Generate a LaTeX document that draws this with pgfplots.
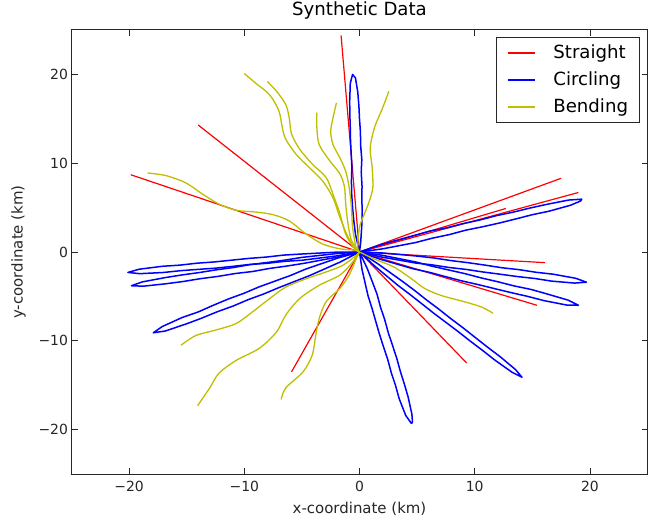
\documentclass[border=0pt]{standalone}
\usepackage{fontspec}
\setmainfont{DejaVu Sans}
\usepackage{pgfplots}
\pgfplotsset{compat=1.18}
\definecolor{mplred}{rgb}{1,0,0}
\definecolor{mplblue}{rgb}{0,0,1}
\definecolor{mplyellow}{rgb}{0.75,0.75,0}

\pgfplotsset{
  straight/.style={mplred, line width=1.2bp, no marks},
  circling/.style={mplblue, line width=1.5bp, no marks, line join=round},
  bending/.style={mplyellow, line width=1.3bp, no marks, smooth},
}

\begin{document}
\begin{tikzpicture}
\begin{axis}[
    width=576bp, height=444bp, scale only axis,
    xmin=-25, xmax=25, ymin=-25, ymax=25,
    xtick={-20,-10,0,10,20}, ytick={-20,-10,0,10,20},
    xticklabels={−20,−10,0,10,20}, yticklabels={−20,−10,0,10,20},
    tick align=inside, major tick length=6bp,
    tick style={black!85, line width=0.8bp},
    axis line style={black!85, line width=1bp},
    tick label style={font=\fontsize{14}{16}\selectfont, text=black!85},
    xticklabel style={yshift=-4bp},
    every axis x label/.style={at={(rel axis cs:0.5,0)}, yshift=-35bp, anchor=center,
        font=\fontsize{15}{17}\selectfont, text=black!85},
    every axis y label/.style={at={(rel axis cs:0,0.5)}, xshift=-53bp, rotate=90, anchor=center,
        font=\fontsize{15}{17}\selectfont, text=black!85},
    title style={font=\fontsize{18.2}{21}\selectfont, at={(0.5,1)}, anchor=base, yshift=8.3bp},
    title={Synthetic Data},
    xlabel={x-coordinate (km)}, ylabel={y-coordinate (km)},
    legend style={at={(0.986,0.984)}, anchor=north east, draw=black!85, line width=0.8bp,
        font=\fontsize{18.2}{21}\selectfont, cells={anchor=west},
        nodes={inner sep=0bp, text height=13.5bp, text depth=3.5bp},
        row sep=10bp, column sep=18bp, inner xsep=11bp, inner ysep=7bp},
    legend image code/.code={\draw[#1, line width=1.3bp] (0bp,0bp) -- (27bp,0bp);},
]
\coordinate (sw) at (rel axis cs:0,0);
\coordinate (ne) at (rel axis cs:1,1);
% straight tracks
\addplot[straight] coordinates {(0,0) (-1.6,24.4)};
\addlegendentry{Straight}
\addplot[straight, forget plot] coordinates {(0,0) (-14.0,14.3)};
\addplot[straight, forget plot] coordinates {(0,0) (-19.85,8.7)};
\addplot[straight, forget plot] coordinates {(0,0) (17.5,8.3)};
\addplot[straight, forget plot] coordinates {(0,0) (19.0,6.7)};
\addplot[straight, forget plot] coordinates {(0,0) (12.7,4.9)};
\addplot[straight, forget plot] coordinates {(0,0) (16.1,-1.2)};
\addplot[straight, forget plot] coordinates {(0,0) (15.4,-6.0)};
\addplot[straight, forget plot] coordinates {(0,0) (9.3,-12.5)};
\addplot[straight, forget plot] coordinates {(0,0) (-5.9,-13.5)};

% circling tracks: out and back
\addplot[circling] coordinates {(0,0) (-0.35,2) (-0.5,3.6) (-0.6,5) (-0.68,6.6) (-0.7,8) (-0.66,9.5) (-0.72,11) (-0.78,12.6) (-0.8,14) (-0.84,15.5) (-0.85,17) (-0.8,19) (-0.6,20.0) (-0.35,19.6) (-0.15,18) (-0.05,16.4) (0.0,15) (0.08,13.5) (0.1,12) (0.2,10.4) (0.15,9) (0.22,7.4) (0.2,6) (0.24,4.5) (0.2,3) (0.1,1) (0,0)};
\addlegendentry{Circling}
\addplot[circling, forget plot] coordinates {(0,0) (1.85,0.83) (4.68,1.84) (6.1,2.35) (7.56,2.72) (9.0,3.2) (10.44,3.6) (11.9,4.1) (13.32,4.48) (14.8,4.95) (16.2,5.35) (18.15,5.85) (19.3,5.95) (19.2,5.75) (18.33,5.27) (16.44,4.59) (15.0,4.2) (13.56,3.72) (12.1,3.25) (10.68,2.84) (9.2,2.45) (7.8,1.96) (6.3,1.55) (4.92,1.08) (1.99,0.35) (0,0)};
\addplot[circling, forget plot] coordinates {(0,0) (2.01,-0.11) (5.0,-0.46) (6.5,-0.68) (7.95,-0.97) (9.4,-1.2) (10.91,-1.48) (12.4,-1.78) (13.86,-1.99) (15.3,-2.28) (16.82,-2.5) (18.77,-2.96) (19.7,-3.4) (18.67,-3.5) (16.68,-3.28) (15.2,-2.98) (13.72,-2.77) (12.2,-2.5) (10.77,-2.26) (9.3,-1.97) (7.81,-1.75) (6.3,-1.45) (4.86,-1.24) (1.93,-0.57) (0,0)};
\addplot[circling, forget plot] coordinates {(0,0) (1.97,-0.37) (4.87,-1.12) (6.3,-1.6) (7.72,-2.02) (9.1,-2.42) (10.57,-2.92) (12.0,-3.35) (13.42,-3.82) (14.9,-4.22) (16.27,-4.72) (18.13,-5.43) (19.0,-6.0) (17.97,-5.97) (16.03,-5.48) (14.6,-5.0) (13.18,-4.58) (11.8,-4.15) (10.33,-3.68) (8.9,-3.26) (7.48,-2.78) (6.1,-2.3) (4.63,-1.88) (1.83,-0.83) (0,0)};
\addplot[circling, forget plot] coordinates {(0,0) (1.54,-1.28) (3.74,-3.32) (4.8,-4.35) (5.85,-5.43) (6.9,-6.45) (7.97,-7.55) (9.0,-8.55) (10.08,-9.66) (11.1,-10.7) (12.2,-11.78) (13.55,-13.25) (14.1,-14.1) (13.25,-13.55) (11.78,-12.2) (10.7,-11.1) (9.66,-10.08) (8.6,-9.0) (7.55,-7.97) (6.5,-6.95) (5.43,-5.85) (4.4,-4.8) (3.32,-3.74) (1.28,-1.54) (0,0)};
\addplot[circling, forget plot] coordinates {(0,0) (0.68,-1.88) (1.52,-4.74) (1.82,-6.2) (2.19,-7.63) (2.5,-9.1) (2.87,-10.53) (3.24,-12.0) (3.54,-13.42) (3.9,-14.9) (4.22,-16.32) (4.55,-18.28) (4.6,-19.2) (4.5,-19.3) (4.01,-18.4) (3.44,-16.5) (3.12,-15.0) (2.76,-13.6) (2.45,-12.1) (2.09,-10.71) (1.72,-9.2) (1.41,-7.81) (1.1,-6.4) (0.74,-4.92) (0.22,-1.98) (0,0)};
\addplot[circling, forget plot] coordinates {(0,0) (-2.03,-0.02) (-5.07,-0.23) (-6.6,-0.35) (-8.08,-0.57) (-9.6,-0.72) (-11.1,-0.92) (-12.6,-1.12) (-14.11,-1.26) (-15.6,-1.48) (-17.13,-1.61) (-19.13,-1.94) (-20.1,-2.3) (-19.07,-2.44) (-17.05,-2.31) (-15.5,-2.1) (-14.03,-1.96) (-12.5,-1.82) (-11.02,-1.62) (-9.5,-1.4) (-8.0,-1.27) (-6.5,-1.05) (-4.99,-0.93) (-1.99,-0.44) (0,0)};
\addplot[circling, forget plot] coordinates {(0,0) (-2.02,-0.18) (-5.02,-0.61) (-6.5,-0.92) (-7.99,-1.18) (-9.5,-1.42) (-10.96,-1.75) (-12.4,-2.0) (-13.93,-2.32) (-15.4,-2.58) (-16.9,-2.89) (-18.86,-3.37) (-19.8,-3.8) (-18.76,-3.85) (-16.76,-3.57) (-15.3,-3.32) (-13.79,-3.0) (-12.3,-2.75) (-10.82,-2.43) (-9.3,-2.2) (-7.85,-1.86) (-6.4,-1.6) (-4.88,-1.29) (-1.94,-0.58) (0,0)};
\addplot[circling, forget plot] coordinates {(0,0) (-1.9,-0.69) (-4.66,-1.92) (-6.0,-2.65) (-7.34,-3.28) (-8.7,-3.92) (-10.03,-4.65) (-11.4,-5.3) (-12.71,-6.01) (-14.0,-6.75) (-15.4,-7.38) (-17.13,-8.4) (-17.9,-9.1) (-16.87,-8.9) (-15.04,-8.1) (-13.7,-7.45) (-12.35,-6.73) (-11.0,-6.1) (-9.67,-5.37) (-8.3,-4.72) (-6.98,-4.0) (-5.6,-3.3) (-4.3,-2.64) (-1.68,-1.13) (0,0)};

% bending tracks
\addplot[bending] coordinates {(0,0) (-0.3,0.2) (-1.0,1.7) (-1.7,3.9) (-2.3,6.1) (-3.2,8.0) (-4.35,9.5) (-5.5,11.0) (-6.4,12.7) (-6.7,14.0) (-7.0,15.9) (-7.8,17.7) (-9.0,19.0) (-10.0,20.1)};
\addlegendentry{Bending}
\addplot[bending, forget plot] coordinates {(0,0) (-0.5,0.5) (-1.2,2.0) (-1.7,4.3) (-2.3,6.5) (-2.9,8.4) (-4.1,9.9) (-5.2,11.6) (-5.9,13.3) (-6.1,15.1) (-6.4,16.6) (-7.2,18.1) (-8.0,19.2)};
\addplot[bending, forget plot] coordinates {(0,0) (-0.7,1.3) (-1.0,3.2) (-1.2,5.4) (-1.3,7.3) (-1.7,8.8) (-2.6,10.3) (-3.5,12.1) (-3.7,14.0) (-3.7,15.7)};
\addplot[bending, forget plot] coordinates {(0,0) (-0.3,0.5) (-0.6,2.8) (-0.7,5.0) (-0.9,7.3) (-1.2,9.1) (-1.7,10.6) (-2.3,12.1) (-2.5,13.6) (-2.3,15.1) (-2.0,16.8)};
\addplot[bending, forget plot] coordinates {(0,0) (-0.15,0.5) (0,2.8) (0.43,4.3) (0.87,5.8) (1.16,7.3) (1.1,9.5) (0.93,11.7) (1.3,14.0) (2.0,16.2) (2.55,18.1)};
\addplot[bending, forget plot] coordinates {(0,0) (-0.3,0.2) (-1.7,0.36) (-3.2,0.9) (-4.6,2.0) (-6.1,3.5) (-7.5,4.2) (-9.0,4.5) (-10.7,4.7) (-12.2,5.4) (-13.6,6.5) (-15.1,7.8) (-16.8,8.6) (-18.4,8.9)};
\addplot[bending, forget plot] coordinates {(0,0) (-0.3,-0.4) (-1.45,-1.5) (-2.9,-2.25) (-4.6,-3.0) (-6.4,-3.95) (-7.8,-5.25) (-9.3,-6.75) (-10.7,-8.05) (-12.5,-8.8) (-14.2,-9.4) (-15.5,-10.5)};
\addplot[bending, forget plot] coordinates {(0,0) (-0.15,-0.2) (-0.6,-1.15) (-1.7,-2.6) (-3.5,-3.75) (-5.2,-5.25) (-6.4,-7.1) (-7.2,-9.0) (-8.7,-10.85) (-10.7,-12.2) (-12.2,-13.65) (-13.0,-15.3) (-14.05,-17.3)};
\addplot[bending, forget plot] coordinates {(0,0) (-0.3,-0.8) (-0.9,-2.6) (-1.7,-4.1) (-2.9,-5.6) (-3.5,-7.5) (-3.8,-9.4) (-4.1,-11.6) (-4.9,-13.5) (-6.4,-15.3) (-6.8,-16.6)};
\addplot[bending, forget plot] coordinates {(0,0) (1.3,-0.8) (3.0,-1.7) (4.5,-3.0) (5.65,-4.1) (7.1,-4.9) (9.1,-5.6) (10.6,-6.2) (11.6,-6.9)};
\end{axis}
\pgfresetboundingbox
\path ([shift={(-71.5bp,-47bp)}]sw) rectangle ([shift={(9.5bp,30bp)}]ne);
\end{tikzpicture}
\end{document}
